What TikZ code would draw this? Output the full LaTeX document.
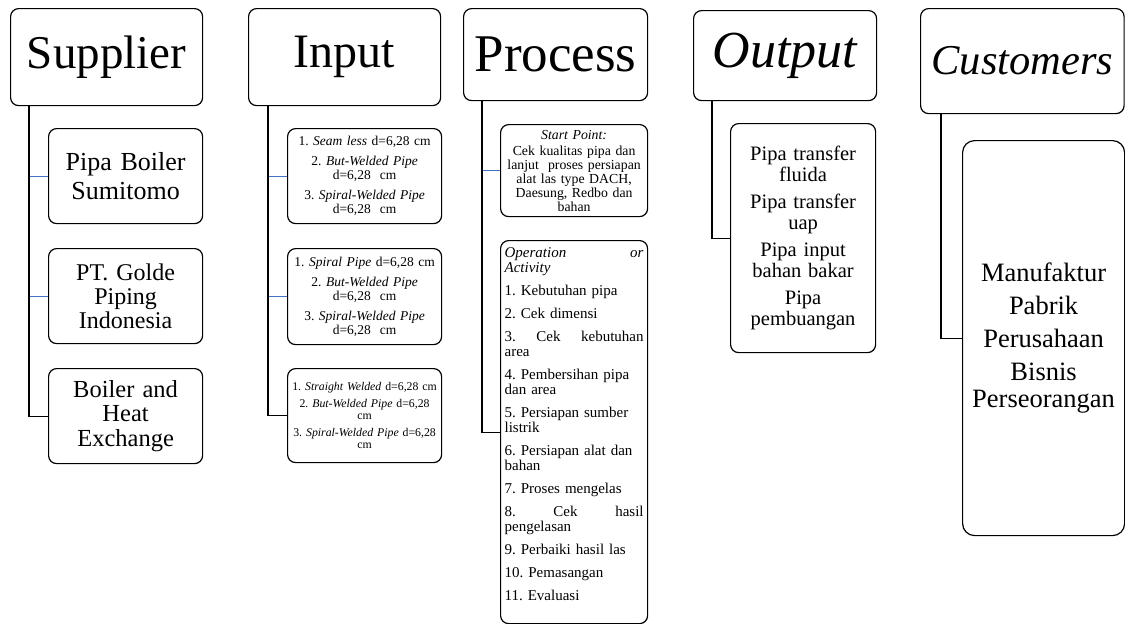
\documentclass[tikz,border=0pt]{standalone}
\usepackage{fontspec}
\setmainfont{Liberation Serif}
\frenchspacing
\definecolor{linkblue}{RGB}{68,114,196}
\newcommand\fs[2]{\fontsize{#1}{#2}\selectfont}
\tikzset{
  card/.style={draw, line width=1.2pt, rounded corners=8pt, anchor=north west,
    inner sep=2pt, align=center},
  trunk/.style={line width=1.2pt, black},
  twig/.style={line width=1pt, linkblue},
}
\begin{document}
\begin{tikzpicture}[x=1pt,y=-1pt]
\useasboundingbox (0,0) rectangle (1125,624);

% ---------- Supplier ----------
\node[card, minimum width=192pt, minimum height=97pt, font=\fs{47}{50}] (supH) at (10,8) {Supplier};
\node[card, minimum width=154pt, minimum height=95pt, text width=148pt, font=\fs{26}{29}] (sup1) at (48,128) {Pipa Boiler\\Sumitomo};
\node[card, minimum width=154pt, minimum height=95pt, text width=148pt, font=\fs{24}{24}] (sup2) at (48,248) {PT. Golde\\Piping\\Indonesia};
\node[card, minimum width=154pt, minimum height=95pt, text width=148pt, font=\fs{24.5}{24.5}] (sup3) at (48,368) {Boiler and\\Heat\\Exchange};
\coordinate (supV) at ([xshift=19pt]supH.south west);
\draw[twig] (supV |- sup1.west) -- (sup1.west);
\draw[twig] (supV |- sup2.west) -- (sup2.west);
\draw[trunk] (supV) |- (sup3.west);

% ---------- Input ----------
\node[card, minimum width=192pt, minimum height=97pt, font=\fs{48}{50}] (inH) at (248,8) {Input};
\node[card, minimum width=153pt, minimum height=95pt, text width=150pt, font=\fs{13.5}{14}] (in1) at (287,128)
  {1. \textit{Seam less} d=6,28 cm\\[6pt]2. \textit{But-Welded Pipe}\\d=6,28\ \ cm\\[6pt]3. \textit{Spiral-Welded Pipe}\\d=6,28\ \ cm};
\node[card, minimum width=153pt, minimum height=96pt, text width=150pt, font=\fs{13.5}{14}] (in2) at (287,248)
  {1. \textit{Spiral Pipe} d=6,28 cm\\[6pt]2. \textit{But-Welded Pipe}\\d=6,28\ \ cm\\[6pt]3. \textit{Spiral-Welded Pipe}\\d=6,28\ \ cm};
\node[card, minimum width=153pt, minimum height=94pt, text width=150pt, font=\fs{11.8}{12}] (in3) at (287,368)
  {1. \textit{Straight Welded} d=6,28 cm\\[5pt]2. \textit{But-Welded Pipe} d=6,28\\cm\\[5pt]3. \textit{Spiral-Welded Pipe} d=6,28\\cm};
\coordinate (inV) at ([xshift=20pt]inH.south west);
\draw[twig] (inV |- in1.west) -- (in1.west);
\draw[twig] (inV |- in2.west) -- (in2.west);
\draw[trunk] (inV) |- (in3.west);

% ---------- Process ----------
\node[card, minimum width=184pt, minimum height=92pt, font=\fs{53}{55}] (prH) at (463,8) {Process};
\node[card, minimum width=147pt, minimum height=92pt, text width=143pt, font=\fs{13.8}{13.8}] (pr1) at (500,124)
  {\textit{Start Point:}\\[3pt]Cek kualitas pipa dan\\lanjut\ \ proses persiapan\\alat las type DACH,\\Daesung, Redbo dan\\bahan};
\node[card, minimum width=147pt, minimum height=383pt, text width=139pt, align=left, inner sep=4pt,
      font=\fs{15}{15}] (pr2) at (500,240)
  {\textit{Operation\hfill or}\\\textit{Activity}\\[8pt]
   1. Kebutuhan pipa\\[8pt]
   2. Cek dimensi\\[8pt]
   3.\hfill Cek\hfill kebutuhan\\area\\[8pt]
   4. Pembersihan pipa\\dan area\\[8pt]
   5. Persiapan sumber\\listrik\\[8pt]
   6. Persiapan alat dan\\bahan\\[8pt]
   7. Proses mengelas\\[8pt]
   8.\hfill Cek\hfill hasil\\pengelasan\\[8pt]
   9. Perbaiki hasil las\\[8pt]
   10. Pemasangan\\[8pt]
   11. Evaluasi\\[1pt]\mbox{}};
\coordinate (prV) at ([xshift=19pt]prH.south west);
\draw[twig] (prV |- pr1.west) -- (pr1.west);
\draw[trunk] (prV) |- (pr2.west);

% ---------- Output ----------
\node[card, minimum width=183pt, minimum height=90pt, font=\fs{52}{55}\itshape] (ouH) at (693,10) {Output};
\node[card, minimum width=145pt, minimum height=229pt, text width=141pt, font=\fs{20.5}{21}] (ou1) at (730,123)
  {Pipa transfer\\fluida\\[6pt]Pipa transfer\\uap\\[6pt]Pipa input\\bahan bakar\\[6pt]Pipa\\pembuangan};
\coordinate (ouV) at ([xshift=19pt]ouH.south west);
\draw[trunk] (ouV) |- (ou1.west);

% ---------- Customers ----------
\node[card, minimum width=203.5pt, minimum height=105pt, font=\fs{42.5}{45}\itshape] (cuH) at (920,8) {Customers};
\node[card, rounded corners=12pt, minimum width=161.5pt, minimum height=395pt, text width=158pt,
      font=\fs{26.5}{27}] (cu1) at (962,140)
  {Manufaktur\\[6pt]Pabrik\\[6pt]Perusahaan\\[6pt]Bisnis\\Perseorangan};
\coordinate (cuV) at ([xshift=21pt]cuH.south west);
\draw[trunk] (cuV) |- (cu1.west);
\end{tikzpicture}
\end{document}
